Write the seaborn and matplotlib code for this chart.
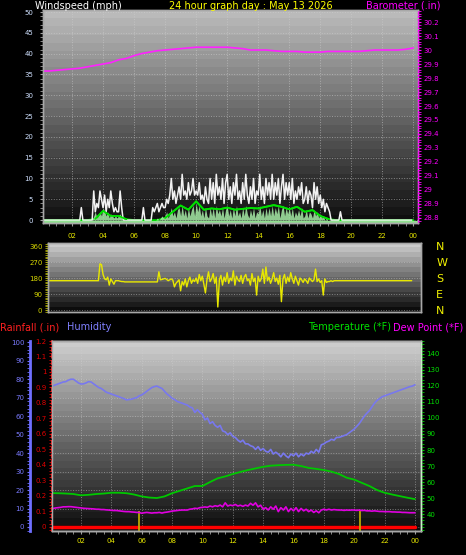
import numpy as np
import seaborn as sns
import matplotlib
matplotlib.use("Agg")
import matplotlib.pyplot as plt
from matplotlib.ticker import MultipleLocator, FuncFormatter

# ---- data (May 13 2026) ----
hour_ticks = [2, 4, 6, 8, 10, 12, 14, 16, 18, 20, 22, 24]
hour_labels = ["02", "04", "06", "08", "10", "12", "14", "16", "18", "20", "22", "00"]

# wind gust, mph, 6-minute samples (one row per hour)
gust = ([0] * 20 +
        [0, 0, 0, 0, 0, 0, 3, 0, 0, 0] +
        [0, 0, 0, 0, 7, 2, 4, 3, 7, 5] +
        [3, 6, 2, 5, 3, 7, 4, 2, 3, 2] +
        [2, 7, 3, 0, 0, 0, 0, 0, 0, 0] +
        [0, 0, 0, 0, 0, 0, 3, 0, 0, 0] +
        [0, 0, 3, 2, 3, 4, 2, 3, 4, 3] +
        [3, 5, 4, 6, 10, 5, 7, 4, 6, 8] +
        [5, 11, 6, 7, 5, 9, 6, 7, 10, 6] +
        [7, 6, 9, 5, 6, 4, 8, 5, 4, 10] +
        [5, 9, 4, 11, 6, 8, 5, 10, 4, 9] +
        [11, 5, 8, 4, 9, 6, 11, 5, 7, 4] +
        [9, 5, 11, 6, 4, 8, 5, 10, 4, 7] +
        [6, 11, 5, 8, 4, 10, 6, 9, 5, 11] +
        [5, 9, 6, 10, 4, 8, 11, 5, 9, 6] +
        [9, 5, 10, 4, 7, 5, 8, 6, 9, 4] +
        [5, 8, 4, 7, 6, 3, 9, 5, 8, 4] +
        [6, 3, 5, 2, 4, 3, 2, 0, 0, 0] +
        [0, 0, 0, 2, 0, 0, 0, 0, 0, 0] +
        [0] * 40)

# wind speed, mph, 6-minute samples
speed = ([0] * 30 +
         [0, 0, 0, 0, 1, 2, 0.5, 1, 2, 1] +
         [3, 2, 1, 2, 0.5, 1.5, 1, 0.5, 1, 0.5] +
         [1, 1.5, 0.5, 0, 0, 0, 0, 0, 0, 0] +
         [0] * 10 +
         [0, 0, 0, 0, 0, 0.5, 0, 0.5, 1, 0.5] +
         [1, 2, 0.5, 1.5, 3, 1, 2, 0.5, 2.5, 3] +
         [1, 3.5, 1, 2.5, 0.5, 3, 1, 2.5, 3.5, 1] +
         [4, 2, 3.5, 1, 2.5, 0.5, 3, 1, 0.5, 3] +
         [1, 3, 0.5, 3.5, 1.5, 2.5, 1, 3, 0.5, 2.5] +
         [3.5, 1, 2.5, 0.5, 3, 1, 3.5, 1, 2, 0.5] +
         [3, 1, 3.5, 1.5, 0.5, 2.5, 1, 3, 0.5, 2] +
         [1.5, 3.5, 1, 2.5, 0.5, 3, 1, 3, 1, 3.5] +
         [1, 3, 1.5, 3.5, 0.5, 2.5, 3.5, 1, 3, 1.5] +
         [3, 1, 3, 0.5, 2, 1, 2.5, 1, 3, 0.5] +
         [1, 2.5, 0.5, 2, 1.5, 0.5, 2.5, 1, 2, 0.5] +
         [1.5, 0.5, 1, 0, 0.5, 0, 0, 0, 0, 0] +
         [0] * 50)

# average wind speed, mph, half-hour samples
avg_speed = [0, 0, 0, 0, 0, 0, 0, 0.3, 2.2, 1.0, 1.0, 0.2, 0, 0, 0, 0,
             0.5, 2.0, 3.5, 2.5, 4.5, 2.5, 2.8, 2.6, 3.0, 2.5, 2.7, 2.9, 2.8,
             3.2, 3.6, 3.2, 2.6, 3.2, 2.0, 2.4, 1.0, 0.3,
             0, 0, 0, 0, 0, 0, 0, 0, 0, 0, 0]

# barometer, inHg, half-hour samples
baro = [29.85, 29.85, 29.855, 29.86, 29.865, 29.87, 29.88, 29.89, 29.90, 29.91,
        29.93, 29.94, 29.96, 29.975, 29.985, 29.995, 30.0, 30.005, 30.01, 30.015,
        30.02, 30.02, 30.02, 30.02, 30.02, 30.015, 30.01, 30.0, 30.0, 30.0,
        29.995, 29.99, 29.99, 29.99, 29.985, 29.985, 29.985, 29.99, 29.99, 29.99,
        29.99, 29.99, 29.995, 30.0, 30.0, 30.0, 30.0, 30.005, 30.015]

# wind direction, degrees, 6-minute samples
direction = ([165] * 30 +
             [165, 165, 165, 165, 165, 165, 165, 165, 260, 255] +
             [200, 175, 170, 185, 140, 175, 160, 145, 165, 165] +
             [165, 162, 160, 160, 158, 158, 158, 158, 158, 158] +
             [158] * 10 +
             [158, 158, 158, 158, 158, 158, 215, 170, 172, 175] +
             [178, 172, 165, 170, 175, 168, 130, 150, 160, 170] +
             [108, 160, 140, 175, 130, 165, 185, 150, 170, 160] +
             [180, 150, 200, 165, 190, 145, 96, 170, 215, 160] +
             [175, 205, 150, 185, 17, 170, 195, 140, 185, 160] +
             [210, 150, 180, 165, 220, 140, 190, 170, 160, 195] +
             [150, 185, 200, 165, 175, 140, 205, 160, 180, 84] +
             [190, 160, 175, 230, 150, 242, 165, 185, 150, 175] +
             [210, 160, 180, 145, 195, 47, 175, 200, 150, 185] +
             [160, 210, 175, 150, 190, 165, 140, 180, 170, 155] +
             [175, 165, 150, 180, 170, 160, 170, 230, 160, 175] +
             [155, 165, 84, 175, 155, 160, 160, 165, 160, 165] +
             [165] * 50)
compass = ["N", "W", "S", "E", "N"]
compass_deg = [360, 270, 180, 90, 0]

# humidity %, 10-minute samples (row per hour, last value = 24:00)
humidity = [76, 76.5, 77, 77.5, 78, 78.5,
            78.7, 79.5, 80, 80, 79, 78,
            77.4, 77.5, 78, 78.7, 78.5, 77.5,
            76.5, 75.5, 75, 74, 73, 72.5,
            72, 71.5, 71, 70.5, 70, 69.5,
            68.8, 69, 69.2, 69.7, 70, 71,
            71.5, 72.4, 73.5, 74.5, 75.5, 76,
            76.3, 75.6, 75, 73.5, 72, 71,
            69.7, 69, 68, 67.5, 67, 66.5,
            66, 65, 64.5, 62, 63.5, 62,
            61, 58, 59, 56, 57, 55,
            54, 55, 52, 51.5, 50, 51,
            49, 48.5, 47, 46, 47, 45,
            45, 44, 43.5, 42, 43.5, 41.5,
            42.5, 41, 40.5, 42, 39.5, 40.5,
            39.5, 38, 40, 38.5, 37.5, 39.5,
            38.5, 40, 38, 39.5, 38.5, 40,
            39.5, 41, 40, 42, 40.5, 44.5,
            45, 46, 46.5, 47.5, 47, 48.5,
            48.5, 49, 49.5, 50, 51, 52,
            53, 54.5, 56, 58, 60, 61.6,
            63, 65, 67, 68.5, 69.5, 70.5,
            71, 71.5, 72, 72.5, 73, 73.5,
            74, 74.5, 75, 75.5, 76, 76.3,
            77]

# dew point *F, 10-minute samples
dew_point = [43.5, 43.5, 43.8, 44, 44.2, 44.5,
             44.5, 44.6, 44.6, 44.4, 44.2, 44,
             43.8, 43.6, 43.5, 43.4, 43.3, 43.2,
             43, 43, 42.8, 42.8, 42.6, 42.5,
             42.3, 42.2, 42.2, 42, 41.8, 41.6,
             41.5, 41.5, 41.3, 41.2, 41, 41,
             40.5, 40.8, 41, 40.8, 40.6, 40.8,
             40.8, 41, 40.6, 41, 41.2, 41.5,
             41.8, 42, 42.2, 42.4, 42.5, 42.5,
             42.5, 43, 43.2, 43.6, 43.4, 44,
             44.2, 44.4, 44.2, 45, 44.5, 45.2,
             44.8, 45.6, 44.5, 47, 45, 45.6,
             45.2, 46, 45, 45.5, 44.8, 45.6,
             45, 46.7, 45.5, 47, 44.5, 45.5,
             43, 44, 42.5, 44.5, 43, 45,
             41.5, 44, 42.5, 44.5, 41.5, 43.5,
             42, 44, 41.5, 43.5, 42, 43,
             41.5, 42.5, 41, 42, 40.8, 42.5,
             43, 42.5, 43, 42.5, 42.8, 42.6,
             42.5, 42.5, 42.3, 42.5, 42.4, 42.5,
             42.5, 42.3, 42.5, 42.2, 42.3, 42,
             42, 41.8, 42, 41.8, 41.6, 41.6,
             41.5, 41.5, 41.5, 41.3, 41.3, 41.2,
             41.2, 41, 41, 40.9, 40.8, 40.8,
             40.8]

# temperature *F, half-hour samples
temperature = [53.1, 53, 52.8, 52.5, 51.7, 52, 52.5, 52.8, 53.3, 53.3,
               53, 52.2, 51, 50.3, 50, 51, 53, 54.5, 56, 57.5,
               57.5, 60, 62.3, 63.5, 65, 66.3, 67.5, 68.5, 69.5, 70.2,
               70.5, 70.7, 70.8, 70, 68.8, 68.2, 67.5, 66.5, 65, 62.7,
               61.5, 59.5, 57.5, 55, 53.3, 52.2, 51.2, 50.2, 49.3]

# rainfall (in) - none today; yellow markers at these hours
rain = [0.0] * 25
rain_marks = [5.8, 20.4]
rain_mark_top = 0.1

t6 = np.arange(len(gust)) / 10
t10 = np.arange(len(humidity)) / 6
t30 = np.arange(len(baro)) / 2
t60 = np.arange(len(rain))

# ---- styling ----
sns.set_style("dark", {"axes.facecolor": "black", "figure.facecolor": "black"})
plt.rcParams["font.family"] = ["DejaVu Sans"]

W, H = 466, 555
fig = plt.figure(figsize=(W / 100, H / 100), dpi=100, facecolor="black")


def box(l, t, r, b):
    return [l / W, 1 - b / H, (r - l) / W, (b - t) / H]


def shade(ax, top, bottom, n=26):
    levels = np.linspace(top, bottom, n).reshape(-1, 1)
    ax.imshow(levels, cmap="gray", vmin=0, vmax=1, extent=(0, 1, 0, 1),
              transform=ax.transAxes, aspect="auto", interpolation="nearest", zorder=0)


def frame(ax, color="#a8a8a8"):
    for s in ax.spines.values():
        s.set_color(color)
        s.set_linewidth(1)


tick_size = 5
xlab_col = "#e6e600"

# ---- wind / barometer panel ----
ax_w = fig.add_axes(box(43, 10, 418, 223))
ax_b = ax_w.twinx()
shade(ax_w, 0.73, 0.06)
ax_w.axhline(-0.45, color="#90e090", lw=1.5, zorder=2)
sns.lineplot(x=t30, y=avg_speed, ax=ax_w, color="#00e000", lw=1.3, estimator=None, zorder=3)
sns.lineplot(x=t6, y=gust, ax=ax_w, color="#f2f2f2", lw=1.1, estimator=None, zorder=4)
ax_w.fill_between(t6, speed, 0, color="#a6eca6", lw=0, alpha=0.85, zorder=5)
# average speed drawn again over the fill where the wind blew
active = np.where(np.array(avg_speed) > 0, avg_speed, np.nan)
ax_w.plot(t30, active, color="#00e000", lw=1.3, zorder=6)
sns.lineplot(x=t30, y=baro, ax=ax_b, color="#ff22ff", lw=1.2, estimator=None)

ax_w.set_xlim(0.13, 24.3)
ax_w.set_ylim(-0.7, 50.5)
ax_b.set_ylim(28.764, 30.286)
ax_w.set_xticks(hour_ticks, hour_labels)
ax_w.xaxis.set_minor_locator(MultipleLocator(0.5))
ax_w.set_yticks(range(0, 51, 5))
ax_w.yaxis.set_minor_locator(MultipleLocator(1))
ax_w.tick_params(axis="x", which="both", bottom=True, colors="#a0a0a0", labelcolor=xlab_col,
                 labelsize=tick_size, length=2, pad=5)
ax_w.tick_params(axis="y", which="both", left=True, colors="#a0a0a0", labelcolor="#cfe0ff",
                 labelsize=tick_size, length=2, pad=5)
ax_b.set_yticks([28.8, 28.9, 29.0, 29.1, 29.2, 29.3, 29.4, 29.5, 29.6, 29.7, 29.8, 29.9, 30.0, 30.1, 30.2])
ax_b.yaxis.set_major_formatter(FuncFormatter(lambda v, _: f"{round(v, 1):g}"))
ax_b.yaxis.set_minor_locator(MultipleLocator(0.02))
ax_b.tick_params(axis="y", which="both", right=True, colors="#ff00ff", labelcolor="#ff00ff",
                 labelsize=tick_size, length=2, pad=2)
ax_w.grid(True, color="#d0d0d0", ls=":", lw=0.7, alpha=0.55)
frame(ax_w)
frame(ax_b)
ax_b.spines["right"].set_color("#ff00ff")
ax_b.spines["right"].set_linestyle(":")
ax_b.grid(False)
for a in (ax_w, ax_b):
    a.set_xlabel("")
    a.set_ylabel("")

# ---- wind direction panel ----
ax_d = fig.add_axes(box(48, 243, 421, 312))
ax_c = ax_d.twinx()
shade(ax_d, 0.80, 0.05, n=14)
sns.lineplot(x=t6, y=direction, ax=ax_d, color="#e8e800", lw=1, estimator=None)
ax_d.set_xlim(0.45, 24.5)
ax_d.set_ylim(-11.25, 376.9)
ax_c.set_ylim(-11.25, 376.9)
ax_d.set_xticks([])
ax_d.set_yticks([0, 90, 180, 270, 360])
ax_d.yaxis.set_minor_locator(MultipleLocator(10))
ax_d.tick_params(axis="y", which="both", left=True, colors="#b0b000", labelcolor="#d8d800",
                 labelsize=tick_size, length=2, pad=2)
ax_d.grid(True, axis="y", color="#d0d0d0", ls=":", lw=0.7, alpha=0.5)
ax_c.set_yticks(compass_deg, compass)
ax_c.tick_params(axis="y", right=True, length=0, labelcolor="#f0f000", labelsize=8, pad=11)
ax_c.grid(False)
frame(ax_d)
frame(ax_c)
for a in (ax_d, ax_c):
    a.set_xlabel("")
    a.set_ylabel("")

# ---- humidity / rain / temperature panel ----
ax_h = fig.add_axes(box(52, 341, 421, 531))
ax_r = ax_h.twinx()
ax_t = ax_h.twinx()
shade(ax_h, 0.80, 0.05, n=30)
sns.lineplot(x=t10, y=humidity, ax=ax_h, color="#7878ee", lw=1.2, estimator=None)
sns.lineplot(x=t60, y=rain, ax=ax_r, color="#ff0000", lw=2.5, estimator=None)
ax_r.vlines(rain_marks, -0.028, rain_mark_top, color="#c8b400", lw=1.2)
sns.lineplot(x=t30, y=temperature, ax=ax_t, color="#00c800", lw=1.3, estimator=None)
sns.lineplot(x=t10, y=dew_point, ax=ax_t, color="#e000e0", lw=1.2, estimator=None)

ax_h.set_xlim(0.09, 24.4)
ax_h.set_ylim(-2.17, 100.7)
ax_r.set_ylim(-0.028, 1.19)
ax_t.set_ylim(29.4, 148.1)

ax_h.set_xticks(hour_ticks, hour_labels)
ax_h.xaxis.set_minor_locator(MultipleLocator(0.5))
ax_h.tick_params(axis="x", which="both", bottom=True, colors="#a0a0a0", labelcolor=xlab_col,
                 labelsize=tick_size, length=2, pad=3)
ax_h.set_yticks(range(0, 101, 10))
ax_h.yaxis.set_minor_locator(MultipleLocator(2))
ax_h.spines["left"].set_position(("outward", 15.8))
ax_h.tick_params(axis="y", which="both", left=True, colors="#6f6fff", labelcolor="#7a7aff",
                 labelsize=tick_size, length=2, pad=2)
ax_h.grid(True, color="#d0d0d0", ls=":", lw=0.7, alpha=0.5)
frame(ax_h)
ax_h.spines["left"].set_color("#6f6fff")
ax_h.spines["left"].set_linewidth(2)

ax_r.yaxis.set_ticks_position("left")
ax_r.set_yticks([0, 0.1, 0.2, 0.3, 0.4, 0.5, 0.6, 0.7, 0.8, 0.9, 1.0, 1.1, 1.2])
ax_r.yaxis.set_major_formatter(FuncFormatter(lambda v, _: f"{round(v, 1):g}"))
ax_r.yaxis.set_minor_locator(MultipleLocator(0.02))
ax_r.tick_params(axis="y", which="both", left=True, right=False, colors="#e00000",
                 labelleft=True, labelright=False, labelcolor="#e00000",
                 labelsize=tick_size, length=2, pad=2)
frame(ax_r)
ax_r.spines["left"].set_color("#ff3030")
ax_r.spines["left"].set_linestyle((0, (2, 2)))
ax_r.spines["left"].set_linewidth(1.2)
ax_r.grid(False)

ax_t.set_yticks(range(40, 141, 10))
ax_t.yaxis.set_minor_locator(MultipleLocator(2))
ax_t.tick_params(axis="y", which="both", right=True, colors="#00c000", labelcolor="#00e000",
                 labelsize=tick_size, length=2, pad=2)
frame(ax_t)
ax_t.spines["right"].set_color("#c8f0c8")
ax_t.grid(False)
for a in (ax_h, ax_r, ax_t):
    a.set_xlabel("")
    a.set_ylabel("")

# ---- header texts ----
hs = 7
fig.text(35 / W, 1 - 6 / H, "Windspeed (mph)", color="white", fontsize=hs, va="center", ha="left")
fig.text(251 / W, 1 - 6 / H, "24 hour graph day : May 13 2026", color="#ffff00", fontsize=hs,
         va="center", ha="center")
fig.text(441 / W, 1 - 6 / H, "Barometer (.in)", color="#ff00ff", fontsize=hs, va="center", ha="right")
fig.text(0, 1 - 327 / H, "Rainfall (.in)", color="#ff2020", fontsize=hs, va="center", ha="left")
fig.text(67 / W, 1 - 327 / H, "Humidity", color="#8080ff", fontsize=hs, va="center", ha="left")
fig.text(391 / W, 1 - 327 / H, "Temperature (*F)", color="#00e000", fontsize=hs, va="center", ha="right")
fig.text(463 / W, 1 - 327 / H, "Dew Point (*F)", color="#ff00ff", fontsize=hs, va="center", ha="right")

fig.savefig("out.png", dpi=100, facecolor="black")
